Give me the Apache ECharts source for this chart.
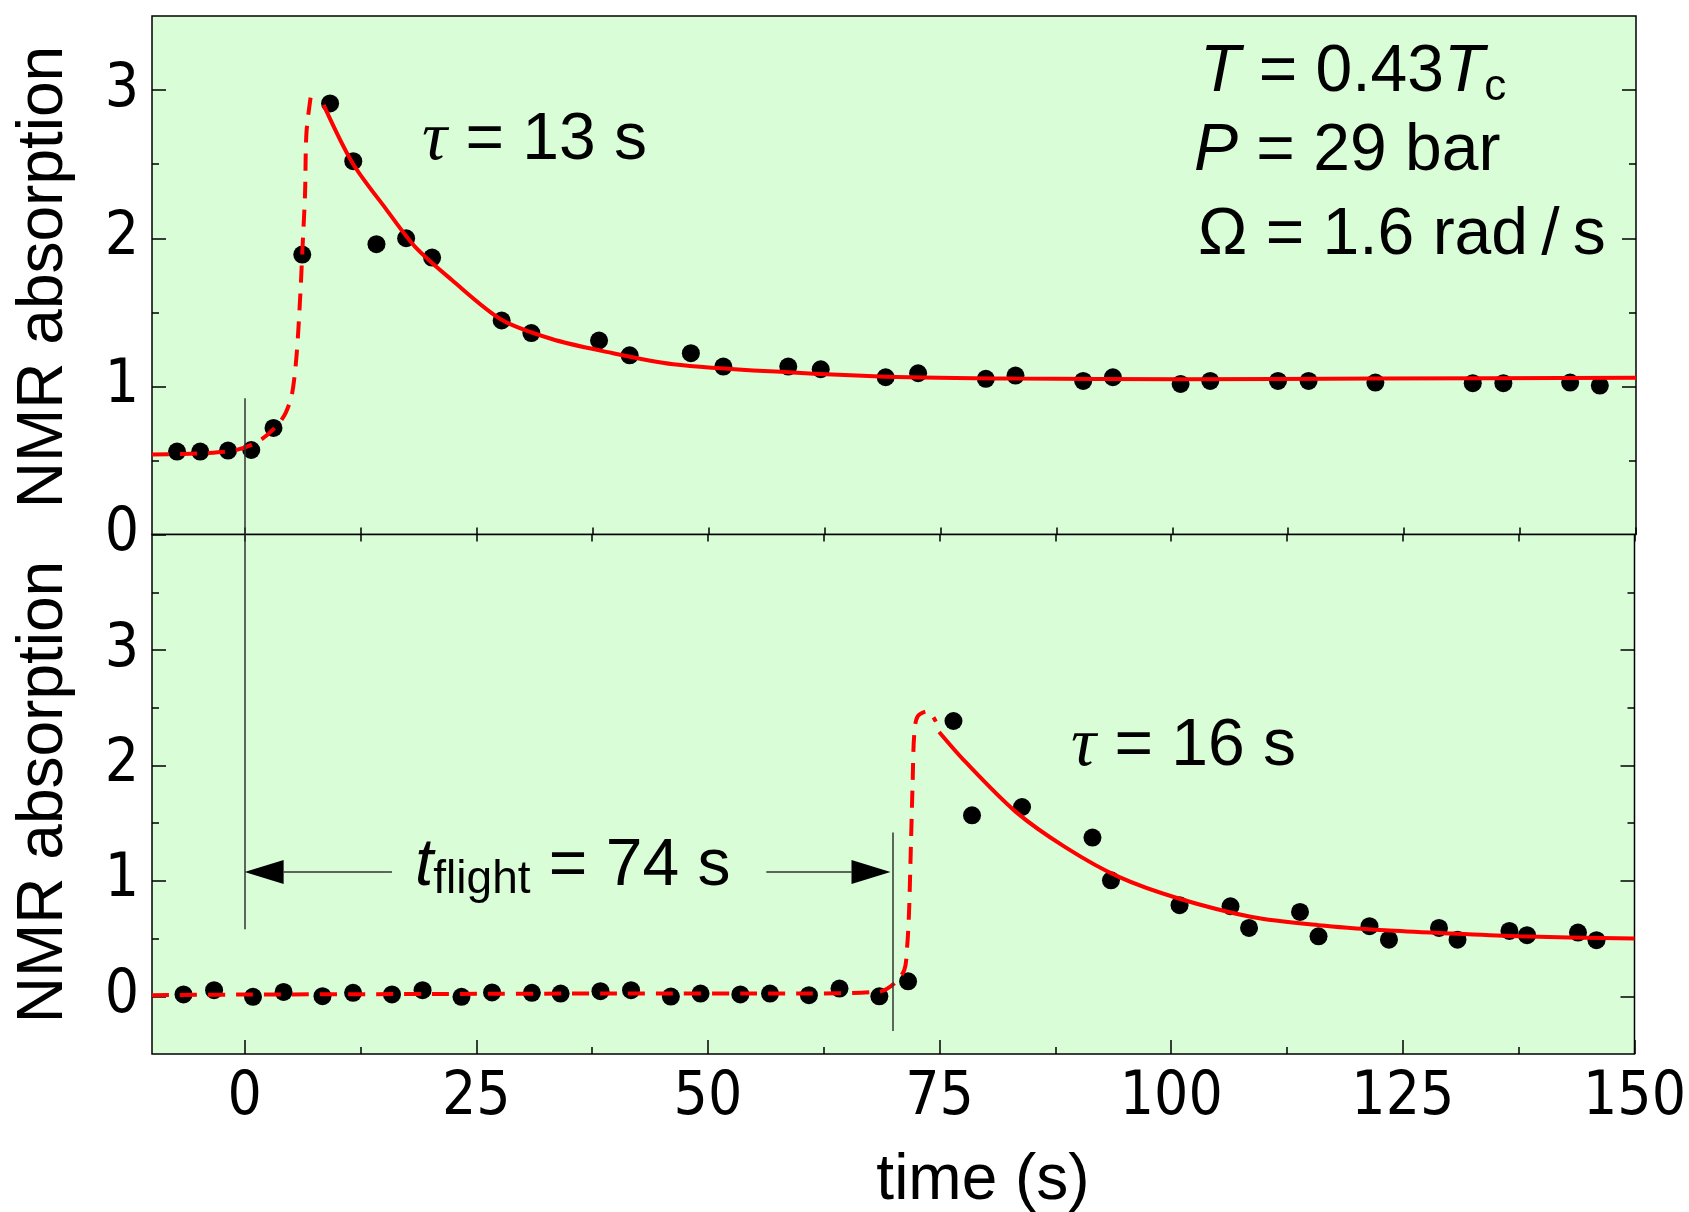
<!DOCTYPE html>
<html><head><meta charset="utf-8">
<script src="https://cdn.jsdelivr.net/npm/echarts@6/dist/echarts.min.js"></script>
<style>html,body{margin:0;padding:0;background:#fff}#c{width:1689px;height:1212px}</style>
</head><body><div id="c"></div>
<script>
// ---------- data ----------
// upper panel measured points
const topX = [-7.3, -4.8, -1.8, 0.7, 3.1, 6.2, 9.2, 11.7, 14.2, 17.4, 20.2, 27.7, 30.9, 38.2, 41.5,
  48.1, 51.6, 58.6, 62.1, 69.1, 72.6, 79.9, 83.1, 90.4, 93.6, 100.9, 104.1, 111.4, 114.7, 121.9, 132.4, 135.7, 142.9, 146.1];
const topY = [0.56, 0.56, 0.567, 0.571, 0.72, 1.89, 2.91, 2.52, 1.96, 2.00, 1.87, 1.445, 1.36, 1.31, 1.21,
  1.224, 1.134, 1.134, 1.116, 1.062, 1.089, 1.051, 1.073, 1.037, 1.062, 1.017, 1.037, 1.037, 1.037, 1.026, 1.022, 1.022, 1.026, 1.006];
// upper panel fit (dashed rise, solid decay, tau = 13 s)
const topRiseX = [-10, -4.3, -1.0, 1.5, 3.4, 4.4, 5.1, 5.6, 6.0, 6.2, 6.5, 6.65, 7.1];
const topRiseY = [0.54, 0.55, 0.57, 0.63, 0.73, 0.82, 0.95, 1.22, 1.63, 1.90, 2.30, 2.71, 2.95];
const topDecayX = [8.5, 11.6, 15.2, 18.4, 22.3, 27.7, 33.1, 38.5, 46.2, 58.6, 69.1, 83.1, 100.9, 121.9, 150];
const topDecayY = [2.90, 2.51, 2.20, 1.94, 1.72, 1.45, 1.32, 1.24, 1.15, 1.095, 1.066, 1.053, 1.048, 1.053, 1.058];
// lower panel measured points
const botX = [-6.6, -3.3, 0.9, 4.2, 8.4, 11.7, 15.9, 19.2, 23.4, 26.7, 31.0, 34.1, 38.4, 41.7, 46.0,
  49.2, 53.5, 56.7, 60.9, 64.2, 68.5, 71.6, 76.5, 78.5, 83.9, 91.5, 93.5,
  100.9, 106.4, 108.4, 113.9, 115.9, 121.4, 123.5, 128.9, 130.9, 136.5, 138.4, 143.9, 145.9];
const botY = [0.016, 0.053, -0.005, 0.038, 0.001, 0.03, 0.016, 0.053, -0.005, 0.033, 0.03, 0.024, 0.044, 0.053, -0.002,
  0.024, 0.016, 0.024, 0.01, 0.067, 0.0, 0.13, 2.385, 1.568, 1.64, 1.375, 1.005,
  0.789, 0.78, 0.592, 0.731, 0.52, 0.607, 0.49, 0.592, 0.49, 0.566, 0.529, 0.552, 0.486];
// lower panel fit (dashed rise, solid decay, tau = 16 s)
const botRiseX = [-10, 0, 20, 40, 60, 68.5, 70.1, 71.2, 71.5, 71.7, 71.9, 72.1, 72.25, 72.6, 73.7, 74.6];
const botRiseY = [0.01, 0.015, 0.02, 0.024, 0.024, 0.04, 0.11, 0.23, 0.43, 0.72, 1.29, 1.87, 2.25, 2.42, 2.47, 2.38];
const botDecayX = [74.95, 77.8, 83.2, 88.6, 94.35, 100.8, 108.7, 115.9, 123.1, 130.3, 137.5, 150];
const botDecayY = [2.29, 2.03, 1.60, 1.29, 1.034, 0.847, 0.687, 0.616, 0.572, 0.544, 0.52, 0.50];
// annotation values (data coordinates)
const startMarkX = 0, startMarkTopY = 0.92, startMarkBotY = 0.58;
const arrivalMarkX = 69.9, arrivalMarkY = [1.42, -0.3];
const arrowY = 1.076;
const arrowLeftLine = [4.2, 15.9], arrowRightLine = [56.3, 65.5];
const arrowHeadCentres = [2.1, 67.6];
// ticks
const xMajor = [0, 25, 50, 75, 100, 125, 150];
const xMinor = [12.5, 37.5, 62.5, 87.5, 112.5, 137.5];
const xAll = [0, 12.5, 25, 37.5, 50, 62.5, 75, 87.5, 100, 112.5, 125, 137.5, 150];
const yTopMajor = [0, 1, 2, 3], yTopMinor = [0.5, 1.5, 2.5];
const yBotMajor = [0, 1, 2, 3], yBotMinor = [0.5, 1.5, 2.5, 3.5];

const pairs = (xs, ys) => xs.map((x, i) => [x, ys[i]]);
const SANS = "'Liberation Sans', Arial, sans-serif";
const NARROW = "'Liberation Sans Narrow', 'DejaVu Sans Condensed', 'Liberation Sans', Arial, sans-serif";
const SERIF = "'Liberation Serif', 'DejaVu Serif', serif";
const BG = '#d9fdd7';
const RED = '#ff0000';

function ax(grid, pos, min, max, ticks, len, labels) {
  return {
    type: 'value', gridIndex: grid, position: pos, min: min, max: max,
    axisLine: { show: false, onZero: false },
    splitLine: { show: false },
    axisTick: { show: true, inside: true, length: len, customValues: ticks,
      lineStyle: { color: '#000', width: 1.5 } },
    axisLabel: labels ? { show: true, customValues: labels, fontFamily: NARROW, fontSize: 60,
      color: '#000', margin: pos === 'left' ? 13 : 14 } : { show: false }
  };
}

const xAxis = [
  ax(0, 'bottom', -10, 150, xAll, 7, null),          // 0 top panel (boundary)
  ax(1, 'top', -10, 150, xAll, 7, null),             // 1 bottom panel top
  ax(1, 'bottom', -10, 150, xMajor, 14, xMajor),     // 2 bottom panel major + labels
  ax(1, 'bottom', -10, 150, xMinor, 7, null)         // 3 bottom minor
];
const yAxis = [
  ax(0, 'left', 0, 3.5, yTopMajor, 14, yTopMajor),   // 0
  ax(0, 'left', 0, 3.5, yTopMinor, 7, null),         // 1
  ax(0, 'right', 0, 3.5, [1, 2, 3], 14, null),       // 2
  ax(0, 'right', 0, 3.5, yTopMinor, 7, null),        // 3
  ax(1, 'left', -0.5, 4, yBotMajor, 14, yBotMajor),  // 4
  ax(1, 'left', -0.5, 4, yBotMinor, 7, null),        // 5
  ax(1, 'right', -0.5, 4, yBotMajor, 14, null),      // 6
  ax(1, 'right', -0.5, 4, yBotMinor, 7, null)        // 7
];

const markLineStyle = { color: '#333', width: 1.5, type: 'solid' };
const lineBase = { type: 'line', showSymbol: false, symbol: 'none', smooth: 0.3, z: 4, animation: false, silent: true };

const option = {
  animation: false,
  backgroundColor: '#fff',
  grid: [
    { left: 152, top: 16, width: 1484, height: 518.6, show: true, backgroundColor: BG, borderColor: '#000', borderWidth: 1.5 },
    { left: 152, top: 534.6, width: 1484, height: 519.4, show: true, backgroundColor: BG, borderColor: '#000', borderWidth: 1.5 }
  ],
  xAxis: xAxis,
  yAxis: yAxis,
  series: [
    { type: 'scatter', xAxisIndex: 0, yAxisIndex: 0, data: pairs(topX, topY), symbolSize: 18,
      itemStyle: { color: '#000', opacity: 1 }, z: 2, silent: true,
      markLine: { symbol: ['none', 'none'], silent: true, animation: false, label: { show: false },
        lineStyle: markLineStyle,
        data: [[{ coord: [startMarkX, startMarkTopY] }, { coord: [startMarkX, 0] }]] } },
    Object.assign({}, lineBase, { xAxisIndex: 0, yAxisIndex: 0, data: pairs(topRiseX, topRiseY),
      lineStyle: { color: RED, width: 4, type: [17, 11] } }),
    Object.assign({}, lineBase, { xAxisIndex: 0, yAxisIndex: 0, data: pairs(topDecayX, topDecayY),
      lineStyle: { color: RED, width: 4, type: 'solid' } }),
    { type: 'scatter', xAxisIndex: 2, yAxisIndex: 4, data: pairs(botX, botY), symbolSize: 18,
      itemStyle: { color: '#000', opacity: 1 }, z: 2, silent: true,
      markLine: { symbol: ['none', 'none'], silent: true, animation: false, label: { show: false },
        lineStyle: markLineStyle,
        data: [
          [{ coord: [startMarkX, 4] }, { coord: [startMarkX, startMarkBotY] }],
          [{ coord: [arrivalMarkX, arrivalMarkY[0]] }, { coord: [arrivalMarkX, arrivalMarkY[1]] }],
          [{ coord: [arrowLeftLine[0], arrowY] }, { coord: [arrowLeftLine[1], arrowY] }],
          [{ coord: [arrowRightLine[0], arrowY] }, { coord: [arrowRightLine[1], arrowY] }]
        ] },
      markPoint: { silent: true, animation: false, label: { show: false }, itemStyle: { color: '#000' },
        data: [
          { coord: [arrowHeadCentres[0], arrowY], symbol: 'path://M10,0L0,5L10,10Z', symbolSize: [39, 24] },
          { coord: [arrowHeadCentres[1], arrowY], symbol: 'path://M0,0L10,5L0,10Z', symbolSize: [39, 24] }
        ] } },
    Object.assign({}, lineBase, { xAxisIndex: 2, yAxisIndex: 4, data: pairs(botRiseX, botRiseY),
      lineStyle: { color: RED, width: 4, type: [17, 11] } }),
    Object.assign({}, lineBase, { xAxisIndex: 2, yAxisIndex: 4, data: pairs(botDecayX, botDecayY),
      lineStyle: { color: RED, width: 4, type: 'solid' } })
  ],
  graphic: []
};

function tok(extra) {
  return Object.assign({ fontFamily: SANS, fontSize: 66, fill: '#000', verticalAlign: 'middle' }, extra || {});
}
const richDef = {
  n: tok(),
  i: tok({ fontStyle: 'italic' }),
  g: tok({ fontFamily: SERIF, fontStyle: 'italic', fontSize: 70 }),
  sub: tok({ fontSize: 44, padding: [30, 0, 0, 0] }),
  subf: tok({ fontSize: 46, padding: [26, 0, 0, 0] })
};
function txt(x, y, text, extra) {
  return Object.assign({ type: 'text', x: x, y: y, silent: true, z: 100,
    style: { text: text, rich: richDef, fontFamily: SANS, fontSize: 66, fill: '#000', align: 'left', verticalAlign: 'middle' } }, extra || {});
}
option.graphic = [
  txt(422, 141, '{g|τ}{n| = 13 s}'),
  txt(1200, 73, '{i|T}{n| = 0.43}{i|T}{sub|c}'),
  txt(1194, 152, '{i|P}{n| = 29 bar}'),
  txt(1198, 236, '{n|Ω = 1.6 rad\u2009/\u2009s}'),
  txt(415, 867, '{i|t}{subf|flight}{n| = 74 s}'),
  txt(1071, 747, '{g|τ}{n| = 16 s}'),
  { type: 'text', x: 983, y: 1181, silent: true, z: 100,
    style: { text: 'time (s)', fontFamily: SANS, fontSize: 64, fill: '#000', align: 'center', verticalAlign: 'middle' } },
  { type: 'text', x: 44, y: 277, rotation: Math.PI / 2, silent: true, z: 100,
    style: { text: 'NMR absorption', fontFamily: SANS, fontSize: 64, fill: '#000', align: 'center', verticalAlign: 'middle' } },
  { type: 'text', x: 44, y: 792, rotation: Math.PI / 2, silent: true, z: 100,
    style: { text: 'NMR absorption', fontFamily: SANS, fontSize: 64, fill: '#000', align: 'center', verticalAlign: 'middle' } }
];

const chart = echarts.init(document.getElementById('c'), null, { renderer: 'canvas' });
chart.setOption(option);
</script>
</body></html>
